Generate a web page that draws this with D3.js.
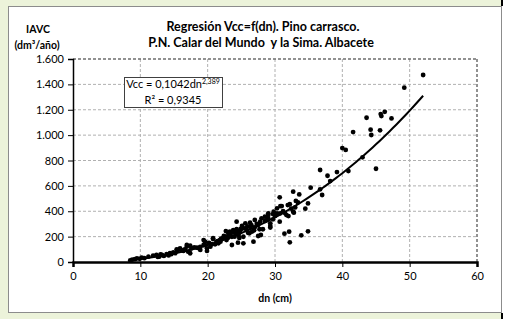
<!DOCTYPE html>
<html>
<head>
<meta charset="utf-8">
<script src="https://cdn.jsdelivr.net/npm/d3@7"></script>
<style>
  body { margin: 0; background: #fff; }
  svg text { font-family: Lato, "Liberation Sans", sans-serif; fill: #000; white-space: pre; }
</style>
</head>
<body>
<div id="chart"></div>
<script>
var width = 518,
    height = 319;

// diametro normal (cm) / IAVC (dm3/año)
var dn = [8.5, 8.8, 9.2, 9.5, 9.9, 10.2, 10.6, 11.2, 11.9, 12.4, 12.6, 12.8, 13.0, 13.2, 13.5, 13.9, 14.2, 14.4, 14.9, 15.2,
  15.4, 15.6, 15.9, 16.2, 16.4, 16.9, 16.9, 17.1, 17.4, 17.4, 17.6, 18.0, 18.4, 18.9, 18.9, 19.4, 19.4, 19.6, 19.6, 19.9,
  19.9, 20.2, 20.4, 20.8, 20.8, 21.1, 21.3, 21.6, 21.8, 21.9, 22.3, 22.6, 22.7, 22.8, 23.1, 23.1, 23.3, 23.6, 23.6, 23.8,
  24.1, 24.3, 24.3, 24.5, 24.6, 24.8, 25.1, 25.3, 25.3, 25.6, 25.8, 26.0, 26.2, 26.3, 26.3, 26.8, 27.0, 27.0, 27.5, 27.5,
  27.7, 27.8, 27.9, 28.0, 28.2, 28.5, 28.5, 29.0, 29.0, 29.0, 29.3, 29.3, 29.3, 29.7, 29.7, 29.8, 30.0, 30.3, 30.3, 30.7,
  30.7, 30.8, 30.8, 31.0, 31.4, 31.5, 31.7, 31.9, 32.0, 32.1, 32.2, 32.2, 32.7, 32.7, 32.8, 33.1, 33.4, 33.6, 33.9, 34.5,
  34.9, 34.9, 35.3, 36.7, 36.7, 37.0, 37.8, 38.2, 39.2, 40.0, 40.5, 40.9, 41.6, 43.0, 43.6, 44.2, 44.3, 45.0, 45.6, 45.7,
  45.8, 46.3, 47.3, 49.2, 52.0,
  22.0, 22.4, 23.0, 23.4, 24.0, 24.4, 24.9, 25.5, 26.5, 26.9, 27.3, 28.8, 31.2, 32.4, 33.0,
  23.9, 24.7, 25.0, 25.9, 26.6, 21.5, 20.6, 18.6, 16.6, 14.6];
var iavc = [12, 18, 22, 29, 25, 34, 30, 42, 50, 55, 40, 42, 60, 55, 48, 61, 52, 69, 76, 70,
  100, 95, 108, 92, 87, 121, 134, 81, 69, 128, 108, 115, 113, 95, 120, 134, 173, 160, 134, 108,
  87, 150, 121, 181, 187, 139, 160, 147, 173, 160, 190, 199, 244, 173, 213, 226, 239, 199, 134, 252,
  226, 258, 318, 152, 213, 240, 284, 199, 147, 305, 252, 230, 226, 310, 278, 160, 331, 273, 292, 205,
  258, 318, 213, 344, 258, 323, 357, 344, 370, 384, 305, 284, 271, 378, 336, 396, 362, 423, 384, 318,
  510, 441, 384, 441, 223, 384, 370, 449, 362, 239, 155, 455, 396, 554, 389, 481, 470, 533, 210, 420,
  242, 462, 586, 573, 725, 528, 680, 638, 709, 898, 883, 717, 1024, 825, 1137, 1043, 1001, 735, 1038, 1166,
  1150, 1184, 1132, 1374, 1474,
  185, 205, 190, 220, 200, 245, 260, 265, 290, 250, 300, 330, 400, 420, 430,
  235, 190, 260, 280, 240, 165, 140, 110, 100, 62];

var xTicks = [0, 10, 20, 30, 40, 50, 60];
var yTicks = [0, 200, 400, 600, 800, 1000, 1200, 1400, 1600];

// linea de tendencia potencial mostrada en el grafico
var trendA = 0.1042, trendB = 2.389, trendFrom = 8.5, trendTo = 52;

var svg = d3.select("#chart").append("svg")
    .attr("width", width)
    .attr("height", height);

// fondo verde y caja del grafico
svg.append("rect").attr("width", width).attr("height", height).attr("fill", "#fff");
svg.append("rect").attr("width", 502).attr("height", height).attr("fill", "#ecf3da");
svg.append("rect")
    .attr("x", 8.5).attr("y", 6.5)
    .attr("width", 493).attr("height", 306)
    .attr("fill", "#fff")
    .attr("stroke", "#8c8c8c");
svg.append("line").attr("x1", 502).attr("x2", 502).attr("y1", 0).attr("y2", 6)
    .attr("stroke", "#000").attr("stroke-width", 2);
svg.append("line").attr("x1", 502).attr("x2", 502).attr("y1", 313).attr("y2", 319)
    .attr("stroke", "#000").attr("stroke-width", 2);

var x = d3.scaleLinear().domain([0, 60]).range([73, 477]);
var y = d3.scaleLinear().domain([0, 1600]).range([262, 59]);

var fmt = function(d) { return d3.format(",")(d).replace(/,/g, "."); };

// rejilla
svg.append("g").selectAll("line")
    .data(xTicks.slice(1))
    .enter().append("line")
    .attr("x1", function(d) { return x(d); })
    .attr("x2", function(d) { return x(d); })
    .attr("y1", y(0)).attr("y2", y(1600))
    .attr("stroke", function(d) { return d == 60 ? "#6e6e6e" : "#b0b0b0"; })
    .attr("stroke-width", function(d) { return d == 60 ? 1.5 : 1; })
    .attr("stroke-dasharray", "3,2");
svg.append("g").selectAll("line")
    .data(yTicks.slice(1))
    .enter().append("line")
    .attr("x1", x(0)).attr("x2", x(60))
    .attr("y1", function(d) { return y(d); })
    .attr("y2", function(d) { return y(d); })
    .attr("stroke", function(d) { return d == 1600 ? "#6e6e6e" : "#b0b0b0"; })
    .attr("stroke-width", function(d) { return d == 1600 ? 1.5 : 1; })
    .attr("stroke-dasharray", "3,2");

// ejes
var yAxis = svg.append("g")
    .attr("transform", "translate(" + x(0) + ",0)")
    .call(d3.axisLeft(y).tickValues(yTicks).tickFormat(fmt).tickSize(5).tickPadding(4));
var xAxis = svg.append("g")
    .attr("transform", "translate(0," + y(0) + ")")
    .call(d3.axisBottom(x).tickValues(xTicks).tickSize(5).tickPadding(5));
[yAxis, xAxis].forEach(function(g) {
  g.selectAll("text").style("font-size", "11px").attr("fill", "#000");
  g.selectAll("line").attr("stroke", "#000");
});
yAxis.select(".domain").attr("stroke", "#000").attr("stroke-width", 1.5);
xAxis.select(".domain").attr("stroke", "#000").attr("stroke-width", 2.5);

// puntos
var pts = d3.range(dn.length).map(function(i) { return [dn[i], iavc[i]]; });
svg.append("g").selectAll("circle")
    .data(pts)
    .enter().append("circle")
    .attr("cx", function(d) { return x(d[0]); })
    .attr("cy", function(d) { return y(d[1]); })
    .attr("r", 2.4)
    .attr("fill", "#000");

// tendencia
var trend = d3.range(trendFrom, trendTo + 0.01, 0.5).map(function(d) {
  return [d, trendA * Math.pow(d, trendB)];
});
svg.append("path")
    .datum(trend)
    .attr("fill", "none")
    .attr("stroke", "#000")
    .attr("stroke-width", 2)
    .attr("d", d3.line().x(function(d) { return x(d[0]); }).y(function(d) { return y(d[1]); }));

// cuadro de la ecuacion
svg.append("rect")
    .attr("x", 124.5).attr("y", 77.5)
    .attr("width", 98).attr("height", 30)
    .attr("fill", "#fff").attr("stroke", "#404040");
var eq = svg.append("text").attr("x", 173).attr("y", 88)
    .attr("text-anchor", "middle").style("font-size", "11px");
eq.append("tspan").text("Vcc = 0,1042dn");
eq.append("tspan").attr("dy", -4).style("font-size", "7px").text("2,389");
svg.append("text").attr("x", 173).attr("y", 104)
    .attr("text-anchor", "middle").style("font-size", "11px")
    .text("R² = 0,9345");

// titulos
svg.append("text").attr("x", 263).attr("y", 31)
    .attr("text-anchor", "middle").style("font-size", "12.5px").style("font-weight", "bold")
    .text("Regresión Vcc=f(dn). Pino carrasco.");
svg.append("text").attr("x", 261).attr("y", 47)
    .attr("text-anchor", "middle").style("font-size", "12.5px").style("font-weight", "bold")
    .text("P.N. Calar del Mundo  y la Sima. Albacete");
svg.append("text").attr("x", 38).attr("y", 33)
    .attr("text-anchor", "middle").style("font-size", "10.5px").style("font-weight", "bold")
    .text("IAVC");
svg.append("text").attr("x", 37).attr("y", 49)
    .attr("text-anchor", "middle").style("font-size", "10.5px").style("font-weight", "bold")
    .text("(dm³/año)");
svg.append("text").attr("x", 275).attr("y", 302)
    .attr("text-anchor", "middle").style("font-size", "10.5px").style("font-weight", "bold")
    .text("dn (cm)");
</script>
</body>
</html>
